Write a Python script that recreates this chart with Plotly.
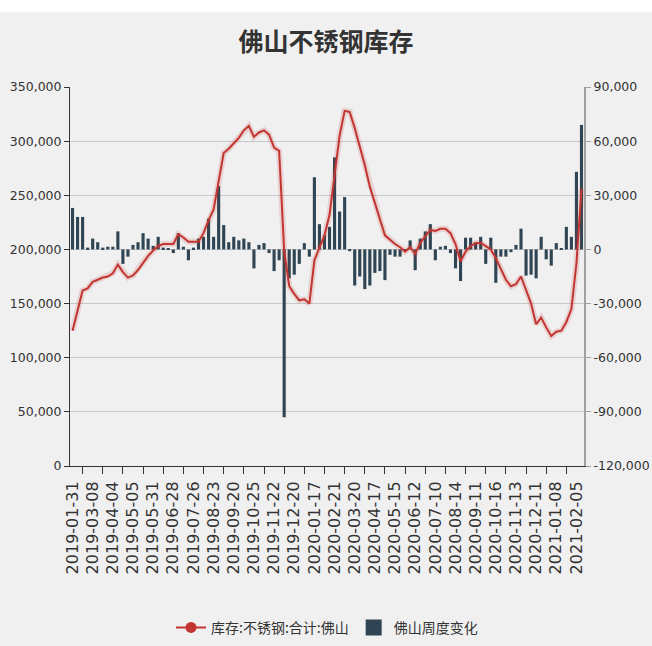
import plotly.graph_objects as go

dates = [
    "2019-01-31", "2019-02-15", "2019-02-22", "2019-03-01", "2019-03-08", "2019-03-15", "2019-03-22", "2019-03-29",
    "2019-04-04", "2019-04-12", "2019-04-19", "2019-04-26", "2019-05-05", "2019-05-10", "2019-05-17", "2019-05-24",
    "2019-05-31", "2019-06-06", "2019-06-14", "2019-06-21", "2019-06-28", "2019-07-05", "2019-07-12", "2019-07-19",
    "2019-07-26", "2019-08-02", "2019-08-09", "2019-08-16", "2019-08-23", "2019-08-30", "2019-09-06", "2019-09-12",
    "2019-09-20", "2019-09-27", "2019-10-11", "2019-10-18", "2019-10-25", "2019-11-01", "2019-11-08", "2019-11-15",
    "2019-11-22", "2019-11-29", "2019-12-06", "2019-12-13", "2019-12-20", "2019-12-27", "2020-01-03", "2020-01-10",
    "2020-01-17", "2020-01-23", "2020-02-07", "2020-02-14", "2020-02-21", "2020-02-28", "2020-03-06", "2020-03-13",
    "2020-03-20", "2020-03-27", "2020-04-03", "2020-04-10", "2020-04-17", "2020-04-24", "2020-04-30", "2020-05-08",
    "2020-05-15", "2020-05-22", "2020-05-29", "2020-06-05", "2020-06-12", "2020-06-19", "2020-06-24", "2020-07-03",
    "2020-07-10", "2020-07-17", "2020-07-24", "2020-08-07", "2020-08-14", "2020-08-21", "2020-08-28", "2020-09-04",
    "2020-09-11", "2020-09-18", "2020-09-25", "2020-10-09", "2020-10-16", "2020-10-23", "2020-10-30", "2020-11-06",
    "2020-11-13", "2020-11-20", "2020-11-27", "2020-12-04", "2020-12-11", "2020-12-18", "2020-12-25", "2020-12-31",
    "2021-01-08", "2021-01-15", "2021-01-22", "2021-01-29", "2021-02-05", "2021-02-10",
]

stock = [
    125000, 145000, 162000, 164000, 170000, 172000, 174000, 175000,
    178000, 186000, 179000, 174000, 176000, 181000, 188000, 194000,
    199000, 203000, 205000, 205000, 205000, 214000, 211000, 207000,
    207000, 207000, 215000, 227000, 237000, 262000, 289000, 293000,
    298000, 303000, 310000, 314000, 304000, 308000, 310000, 306000,
    294000, 291000, 199000, 166000, 159000, 153000, 154000, 150000,
    190000, 202000, 213000, 232000, 270000, 305000, 328000, 327000,
    312000, 295000, 278000, 258000, 244000, 228000, 213000, 209000,
    205000, 202000, 198000, 202000, 196000, 206000, 212000, 218000,
    217000, 219000, 219000, 215000, 205000, 189000, 198000, 203000,
    206000, 206000, 203000, 200000, 192000, 182000, 172000, 166000,
    168000, 175000, 162000, 150000, 131000, 137000, 128000, 120000,
    124000, 125000, 133000, 145000, 187000, 256000,
]

weekly_change = [
    23000, 18000, 18000, 1000, 6000, 4000, 1000, 1500,
    1500, 10000, -8000, -4000, 2500, 4000, 9000, 6000,
    2000, 7000, 1000, 500, -2000, 9000, 1500, -6000,
    1000, 6000, 7000, 17000, 7000, 35000, 13500, 4000,
    7000, 5000, 6000, 4000, -10500, 2500, 3500, -2000,
    -12000, -6000, -93000, -16000, -14000, -8000, 3500, -4000,
    40000, 14000, 8000, 12500, 51000, 21000, 29000, -1000,
    -20000, -15000, -22000, -20000, -13000, -12000, -17000, -3000,
    -4000, -4000, -1000, 5000, -11500, 6000, 10000, 14000,
    -6000, 1500, 2000, -2000, -10500, -17500, 6500, 6500,
    4000, 7000, -8000, 6500, -18500, -4000, -4000, -1500,
    2500, 11500, -14500, -14000, -16000, 7000, -5500, -9000,
    3500, 500, 12500, 7000, 43000, 69000,
]

left_tick_vals = [0, 50000, 100000, 150000, 200000, 250000, 300000, 350000]
left_tick_text = ["0", "50,000", "100,000", "150,000", "200,000", "250,000", "300,000", "350,000"]
right_tick_vals = [-120000, -90000, -60000, -30000, 0, 30000, 60000, 90000]
right_tick_text = ["-120,000", "-90,000", "-60,000", "-30,000", "0", "30,000", "60,000", "90,000"]

line_name = "库存:不锈钢:合计:佛山"
bar_name = "佛山周度变化"
title_text = "佛山不锈钢库存"

idx = list(range(len(dates)))
label_pos = idx[::4]
label_txt = dates[::4]
tick_marks = [p + 2 for p in label_pos if p + 2 < len(dates) - 1]

RED = "#c23531"
BAR = "#2f4554"
CJK = "Noto Sans CJK SC, Noto Sans, sans-serif"
NUM = "DejaVu Sans, sans-serif"

fig = go.Figure()
# legend entries
fig.add_trace(go.Scatter(x=[None], y=[None], mode="lines+markers", name=line_name,
                         line=dict(color=RED, width=2), marker=dict(color=RED, size=11),
                         yaxis="y2"))
fig.add_trace(go.Scatter(x=[None], y=[None], mode="markers", name=bar_name,
                         marker=dict(color=BAR, size=16, symbol="square"), yaxis="y2"))
fig.add_trace(go.Bar(x=idx, y=weekly_change, name=bar_name, marker_color=BAR,
                     marker_line_width=0, yaxis="y", showlegend=False))
# soft halo under the line
fig.add_trace(go.Scatter(x=idx, y=stock, mode="lines", showlegend=False, hoverinfo="skip",
                         line=dict(color="rgba(194,53,49,0.16)", width=6), yaxis="y2"))
fig.add_trace(go.Scatter(x=idx, y=stock, mode="lines", name=line_name, showlegend=False,
                         line=dict(color=RED, width=2), yaxis="y2"))

fig.update_layout(
    width=652, height=646,
    margin=dict(l=70, r=68, t=87, b=180, autoexpand=False),
    paper_bgcolor="#f0f0f0", plot_bgcolor="#f0f0f0",
    font=dict(family=CJK, color="#333", size=13),
    title=dict(text=title_text, x=0.5, xanchor="center", y=0.935, yanchor="middle",
               font=dict(size=25, color="#333", family=CJK, weight="bold")),
    bargap=0.38,
    showlegend=True,
    legend=dict(orientation="h", x=0.5, xanchor="center", y=-0.427, yanchor="middle",
                font=dict(size=14, color="#333", family=CJK), bgcolor="rgba(0,0,0,0)",
                itemwidth=30, itemsizing="trace", traceorder="normal"),
    xaxis=dict(range=[-0.5, len(dates) - 0.5], tickmode="array", tickvals=label_pos, ticktext=label_txt,
               tickangle=-90, tickfont=dict(size=16, color="#333", family=NUM), showgrid=False,
               zeroline=False, showline=True, linecolor="#333", linewidth=1, automargin=False,
               ticks="outside", ticklen=8, tickcolor="rgba(0,0,0,0)",
               minor=dict(ticks="outside", ticklen=7, tickcolor="#333", tickmode="array",
                          tickvals=tick_marks, showgrid=False)),
    yaxis=dict(range=[-120000, 90000], tickmode="array", tickvals=right_tick_vals,
               ticktext=right_tick_text, side="right", automargin=False,
               showgrid=True, gridcolor="#c8c8c8", zeroline=False, showline=True,
               linecolor="#a0a0a0", linewidth=2, ticks="outside", ticklen=5, tickcolor="#a0a0a0",
               tickfont=dict(size=12.5, color="#333", family=NUM)),
    yaxis2=dict(range=[0, 350000], tickmode="array", tickvals=left_tick_vals, ticktext=left_tick_text,
                side="left", overlaying="y", automargin=False,
                showgrid=False, zeroline=False, showline=True, linecolor="#333", linewidth=1,
                ticks="outside", ticklen=5, tickcolor="#333",
                tickfont=dict(size=12.5, color="#333", family=NUM)),
    shapes=[dict(type="rect", xref="paper", yref="paper", x0=-0.2, x1=1.2, y0=1.197, y1=1.3,
                 fillcolor="white", line_width=0, layer="below")],
)

fig.write_html("out.html", config={"displayModeBar": False},
               post_script="document.body.style.margin='0px';")
